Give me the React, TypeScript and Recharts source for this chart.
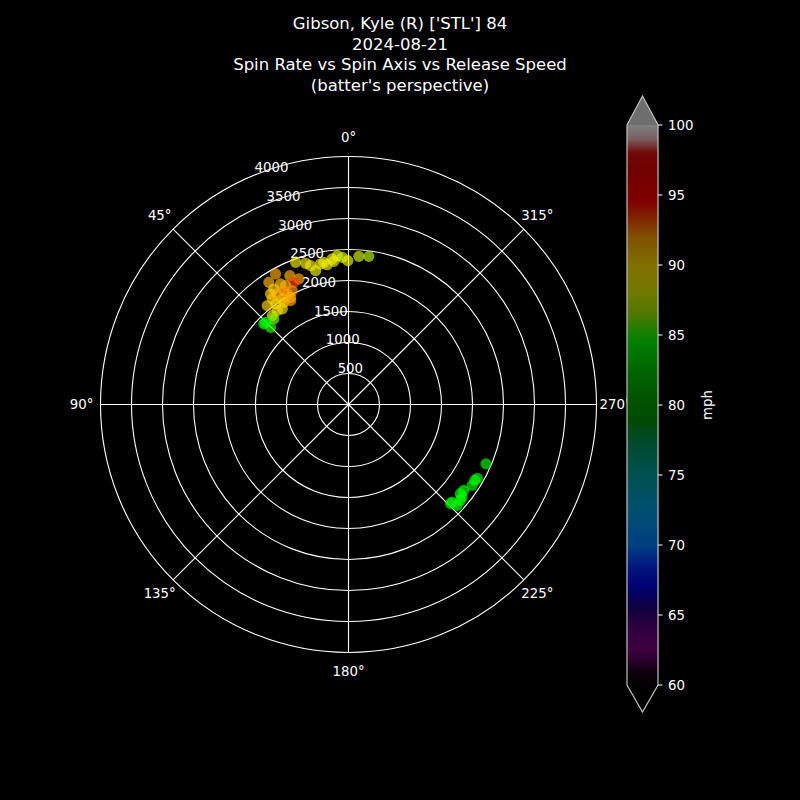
import React from 'react';
import { RadarChart, PolarGrid, PolarAngleAxis, PolarRadiusAxis, Radar } from 'recharts';

// Spin axis (deg), spin rate (rpm), release speed (mph)
const spinAxis = [
  20.4, 16.9, 15.3, 13.8, 11.3, 9.8, 6.4, 4.3, 2.4, 0.3, 356.0, 352.2, 5.9, 8.7,
  29.2, 24.5, 21.6, 24.1, 33.1, 29.4, 27.9, 32.9, 29.6, 26.3, 35.2, 32.8, 29.0, 35.8,
  32.1, 28.4, 39.4, 35.9, 32.3, 29.1, 37.2, 40.6, 34.7,
  41.1, 45.2, 45.3, 46.4,
  246.7, 239.0, 236.8, 233.3, 230.8, 229.4, 226.7, 227.1, 225.8, 231.4, 240.2,
];
const spinRate = [
  2447, 2380, 2322, 2223, 2311, 2327, 2362, 2407, 2375, 2320, 2395, 2412, 2321, 2281,
  2412, 2283, 2178, 2159, 2352, 2232, 2169, 2219, 2112, 2048, 2182, 2122, 2038, 2101,
  2010, 1965, 2064, 2004, 1950, 1918, 1901, 1888, 1876,
  1832, 1883, 1769, 1885,
  2415, 2375, 2382, 2317, 2364, 2376, 2295, 2391, 2294, 2308, 2396,
];
const releaseSpeed = [
  88.5, 88.5, 89, 88, 88.5, 88.5, 88, 88, 87.5, 88, 87.5, 87, 88.5, 88.5,
  91.5, 91, 91.5, 93.5, 91, 90.5, 91, 90, 92, 92, 90, 91, 92, 90.5,
  91, 91, 90, 89.5, 90, 91.5, 89, 88.5, 89.5,
  86, 84.5, 85, 84.5,
  84, 84.5, 84, 84.5, 84, 84.5, 84, 84.5, 84, 84.5, 84,
];

const angleTicks = [0, 45, 90, 135, 180, 225, 270, 315];
const radiusTicks = [500, 1000, 1500, 2000, 2500, 3000, 3500, 4000];
const colorbarTicks = [60, 65, 70, 75, 80, 85, 90, 95, 100];
const titleLines = [
  "Gibson, Kyle (R) ['STL'] 84",
  '2024-08-21',
  'Spin Rate vs Spin Axis vs Release Speed',
  "(batter's perspective)",
];

const data = spinAxis.map((a, i) => ({ axis: a, spin: spinRate[i], speed: releaseSpeed[i] }));

// colormap for points (full intensity)
const cmapStops: [number, string][] = [
  [60, '#000000'], [62.5, '#800080'], [65.5, '#200080'], [67, '#0000e0'], [70, '#0080ff'],
  [75, '#00a0a0'], [77.5, '#009050'], [79, '#009000'], [82, '#00c000'], [84.5, '#00ff00'],
  [86.5, '#a0f000'], [88, '#e8f000'], [90, '#ffd000'], [92, '#ff9800'], [93.5, '#ff4000'],
  [94.5, '#ff0000'], [97, '#e00000'], [99, '#f0c0c0'], [100, '#ffffff'],
];
// colorbar as displayed
const barStops: [number, string][] = [
  [100, '#808080'], [99, '#7a6060'], [98, '#700808'], [97, '#700000'], [94.5, '#800000'],
  [93.5, '#802000'], [92, '#805000'], [90, '#807000'], [88, '#707800'], [86.5, '#507800'],
  [85, '#108000'], [84.5, '#008000'], [82, '#006000'], [79, '#004a00'], [77.5, '#004a28'],
  [75, '#005050'], [72.5, '#005070'], [70, '#004080'], [68.5, '#001880'], [67, '#000070'],
  [65.5, '#100040'], [64, '#300040'], [62.5, '#400040'], [61, '#100010'], [60, '#000000'],
];

const hex = (c: string) => [1, 3, 5].map((k) => parseInt(c.slice(k, k + 2), 16));
const colorFor = (v: number) => {
  for (let i = 0; i < cmapStops.length - 1; i++) {
    const [a, ca] = cmapStops[i];
    const [b, cb] = cmapStops[i + 1];
    if (v >= a && v <= b) {
      const t = (v - a) / (b - a);
      const A = hex(ca), B = hex(cb);
      const m = A.map((x, k) => Math.round(x + (B[k] - x) * t));
      return `rgb(${m[0]},${m[1]},${m[2]})`;
    }
  }
  return v < 60 ? '#000' : '#fff';
};

const FONT = 'DejaVu Sans, sans-serif';

const renderDot = (props: any) => {
  const p = props.payload && props.payload.payload ? props.payload.payload : props.payload;
  const speed = p ? p.speed : 85;
  return (
    <circle
      key={`d-${props.index}`}
      cx={props.cx}
      cy={props.cy}
      r={5.6}
      fill={colorFor(speed)}
      fillOpacity={0.68}
      stroke="none"
    />
  );
};

const renderAngleTick = (props: any) => (
  <text
    x={props.x}
    y={props.y}
    textAnchor="middle"
    dominantBaseline="central"
    fill="#ffffff"
    fontSize={13.33}
    fontFamily={FONT}
  >
    {`${props.payload.value}°`}
  </text>
);

const renderRadiusTick = (props: any) => (
  <text
    x={props.x + 1}
    y={props.y - 3}
    textAnchor="start"
    fill="#ffffff"
    fontSize={13.33}
    fontFamily={FONT}
  >
    {props.payload.value}
  </text>
);

const barX = 627;
const barW = 31;
const barTop = 125;
const barBottom = 685;
const vToY = (v: number) => barBottom - ((v - 60) / 40) * (barBottom - barTop);

export default function App() {
  return (
    <div style={{ position: 'absolute', left: 0, top: 0, width: 800, height: 800, background: '#000' }}>
      <RadarChart
        width={800}
        height={800}
        data={data}
        cx={348.5}
        cy={404.5}
        innerRadius={0}
        outerRadius={248}
        startAngle={90}
        endAngle={450}
        margin={{ top: 0, right: 0, bottom: 0, left: 0 }}
      >
        <PolarGrid gridType="circle" stroke="#ffffff" strokeWidth={1.1} strokeOpacity={1} />
        <PolarAngleAxis
          dataKey="axis"
          type="number"
          domain={[0, 360]}
          ticks={angleTicks}
          tick={renderAngleTick}
          axisLine={false}
          tickLine={false}
          tickSize={19}
        />
        <PolarRadiusAxis
          angle={112.5}
          type="number"
          domain={[0, 4000]}
          ticks={radiusTicks}
          tick={renderRadiusTick}
          axisLine={false}
        />
        <Radar
          dataKey="spin"
          fill="none"
          stroke="none"
          dot={renderDot}
          isAnimationActive={false}
        />
      </RadarChart>
      <svg
        width={800}
        height={800}
        style={{ position: 'absolute', left: 0, top: 0, pointerEvents: 'none' }}
      >
        <defs>
          <linearGradient id="cbar" x1="0" y1="0" x2="0" y2="1">
            {barStops.map(([v, c]) => (
              <stop key={v} offset={(100 - v) / 40} stopColor={c} />
            ))}
          </linearGradient>
        </defs>
        {titleLines.map((t, i) => (
          <text
            key={i}
            x={400}
            y={29 + i * 20.7}
            textAnchor="middle"
            fill="#ffffff"
            fontSize={16.5}
            fontFamily={FONT}
          >
            {t}
          </text>
        ))}
        <polygon
          points={`${barX},${barTop} ${barX + barW / 2},${barTop - 29} ${barX + barW},${barTop}`}
          fill="#6e6e6e"
        />
        <rect x={barX} y={barTop} width={barW} height={barBottom - barTop} fill="url(#cbar)" />
        <polygon
          points={`${barX},${barBottom} ${barX + barW / 2},${barBottom + 27} ${barX + barW},${barBottom}`}
          fill="#000000"
        />
        <path
          d={`M${barX},${barTop} L${barX + barW / 2},${barTop - 29} L${barX + barW},${barTop} L${barX + barW},${barBottom} L${barX + barW / 2},${barBottom + 27} L${barX},${barBottom} Z`}
          fill="none"
          stroke="#c0c0c0"
          strokeWidth={1.2}
        />
        {colorbarTicks.map((v) => (
          <g key={v}>
            <line x1={barX + barW} x2={barX + barW + 4.5} y1={vToY(v)} y2={vToY(v)} stroke="#ffffff" strokeWidth={1} />
            <text
              x={barX + barW + 10}
              y={vToY(v)}
              dominantBaseline="central"
              fill="#ffffff"
              fontSize={13.33}
              fontFamily={FONT}
            >
              {v}
            </text>
          </g>
        ))}
        <text
          x={707}
          y={405}
          transform="rotate(-90, 707, 405)"
          textAnchor="middle"
          dominantBaseline="central"
          fill="#ffffff"
          fontSize={13.33}
          fontFamily={FONT}
        >
          mph
        </text>
      </svg>
    </div>
  );
}
